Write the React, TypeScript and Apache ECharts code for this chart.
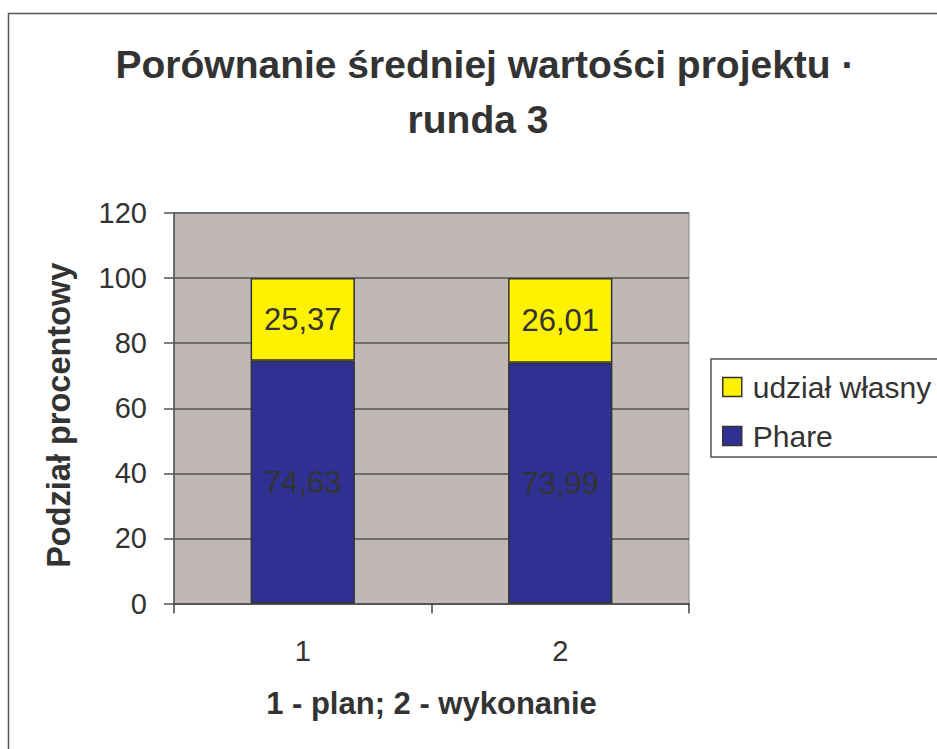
import React, { useEffect, useRef } from "react";
import * as echarts from "echarts";

const categories = ["1", "2"];
const phare = [74.63, 73.99];
const udzialWlasny = [25.37, 26.01];
const seriesNames = ["Phare", "udział własny"];
const titleLines = ["Porównanie średniej wartości projektu ·", "runda 3"];
const yAxisName = "Podział procentowy";
const xAxisName = "1 - plan; 2 - wykonanie";

const FONT = "'Liberation Sans', Arial, sans-serif";
const TEXT = "#333333";

const fmt = (v: number) => v.toFixed(2).replace(".", ",");

export default function App() {
  const ref = useRef<HTMLDivElement>(null);
  useEffect(() => {
    if (!ref.current) return;
    const chart = echarts.init(ref.current, undefined, { renderer: "svg" });
    const labelStyle = {
      show: true,
      position: "inside" as const,
      fontSize: 31,
      fontFamily: FONT,
      color: TEXT,
      formatter: (p: any) => fmt(p.value),
    };
    chart.setOption({
      animation: false,
      backgroundColor: "#ffffff",
      textStyle: { fontFamily: FONT },
      graphic: [
        {
          type: "rect",
          shape: { x: 8.5, y: 13.5, width: 1000, height: 800 },
          style: { fill: "none", stroke: "#555555", lineWidth: 1.5 },
          silent: true,
        },
        {
          type: "text",
          x: 485,
          y: 64,
          style: {
            text: titleLines[0],
            fontSize: 39,
            fontWeight: "bold",
            fontFamily: FONT,
            fill: TEXT,
            textAlign: "center",
            textVerticalAlign: "middle",
          },
        },
        {
          type: "text",
          x: 478,
          y: 119,
          style: {
            text: titleLines[1],
            fontSize: 39,
            fontWeight: "bold",
            fontFamily: FONT,
            fill: TEXT,
            textAlign: "center",
            textVerticalAlign: "middle",
          },
        },
      ],
      legend: {
        orient: "vertical",
        left: 711,
        top: 359,
        data: [seriesNames[1], seriesNames[0]],
        backgroundColor: "#ffffff",
        borderColor: "#555555",
        borderWidth: 1.5,
        borderRadius: 0,
        padding: [13, 20, 6, 11],
        itemWidth: 19,
        itemHeight: 19,
        itemGap: 19,
        icon: "rect",
        itemStyle: { borderColor: "#333333", borderWidth: 1.5 },
        textStyle: {
          fontSize: 30,
          fontFamily: FONT,
          color: TEXT,
          padding: [0, 0, 0, 6],
          lineHeight: 30,
        },
      },
      grid: {
        left: 174,
        top: 213,
        width: 515,
        height: 390.5,
        show: true,
        backgroundColor: "#C0B8B4",
        borderColor: "#8a8482",
        borderWidth: 1,
      },
      xAxis: {
        type: "category",
        data: categories,
        name: xAxisName,
        nameLocation: "middle",
        nameGap: 84,
        nameTextStyle: {
          fontSize: 31,
          fontWeight: "bold",
          fontFamily: FONT,
          color: TEXT,
        },
        axisLine: { show: true, lineStyle: { color: "#555555", width: 2 } },
        axisTick: { show: true, length: 10, lineStyle: { color: "#444444", width: 1.5 } },
        axisLabel: { fontSize: 29, fontFamily: FONT, color: TEXT, margin: 33 },
      },
      yAxis: {
        type: "value",
        min: 0,
        max: 120,
        interval: 20,
        name: yAxisName,
        nameLocation: "middle",
        nameGap: 99,
        nameTextStyle: {
          fontSize: 32.5,
          fontWeight: "bold",
          fontFamily: FONT,
          color: TEXT,
          padding: [0, 14, 0, 0],
        },
        axisLine: { show: true, lineStyle: { color: "#555555", width: 1.5 } },
        axisTick: { show: true, length: 10, lineStyle: { color: "#555555", width: 1.5 } },
        axisLabel: { fontSize: 29, fontFamily: FONT, color: TEXT, margin: 27 },
        splitLine: { show: true, lineStyle: { color: "#555555", width: 1.5 } },
      },
      series: [
        {
          name: seriesNames[0],
          type: "bar",
          stack: "total",
          data: phare,
          barWidth: "40.5%",
          itemStyle: { color: "#2E3192", borderColor: "#333333", borderWidth: 1.5 },
          label: labelStyle,
        },
        {
          name: seriesNames[1],
          type: "bar",
          stack: "total",
          data: udzialWlasny,
          barWidth: "40.5%",
          itemStyle: { color: "#FFF200", borderColor: "#333333", borderWidth: 1.5 },
          label: labelStyle,
        },
      ],
    });
    return () => chart.dispose();
  }, []);
  return (
    <div
      ref={ref}
      style={{ position: "absolute", left: 0, top: 0, width: 937, height: 749 }}
    />
  );
}
